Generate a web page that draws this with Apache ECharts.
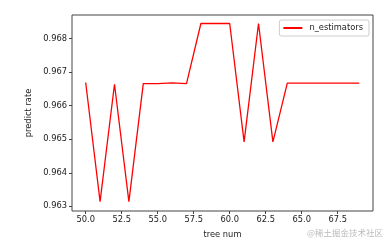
<!DOCTYPE html>
<html>
<head>
<meta charset="utf-8">
<script src="https://cdn.jsdelivr.net/npm/echarts@6/dist/echarts.min.js"></script>
<style>html,body{margin:0;padding:0;background:#fff}#c{width:390px;height:247px}</style>
</head>
<body>
<div id="c"></div>
<script>
const treeNum = [50,51,52,53,54,55,56,57,58,59,60,61,62,63,64,65,66,67,68,69];
const predictRate = [0.96669,0.96314,0.96664,0.96314,0.96666,0.96666,0.96668,0.96666,0.96845,0.96845,0.96845,0.96492,0.96845,0.96492,0.96667,0.96667,0.96667,0.96667,0.96667,0.96667];
const xTicks = [50.0,52.5,55.0,57.5,60.0,62.5,65.0,67.5];
const yTicks = [0.963,0.964,0.965,0.966,0.967,0.968];
const seriesName = 'n_estimators';

const font = 'DejaVu Sans';
const txt = '#222';
const chart = echarts.init(document.getElementById('c'), null, {renderer:'canvas'});
chart.setOption({
  animation:false,
  backgroundColor:'#fff',
  grid:{left:72,right:17,top:15,bottom:36,show:true,borderColor:'#444',borderWidth:1,backgroundColor:'#fff'},
  legend:{
    data:[{name:seriesName,icon:'rect'}],
    right:21, top:20,
    itemWidth:19, itemHeight:2, itemGap:5,
    padding:[4,6,4,4],
    borderColor:'#ccc', borderWidth:1, borderRadius:2,
    backgroundColor:'#fff',
    textStyle:{fontFamily:font,fontSize:8.3,color:txt,padding:[0,0,0,2]}
  },
  xAxis:{
    type:'value', min:49.05, max:69.95,
    name:'tree num', nameLocation:'middle', nameGap:20,
    nameTextStyle:{fontFamily:font,fontSize:8.3,color:txt},
    axisLine:{show:false},
    splitLine:{show:false},
    axisTick:{show:true,length:3,lineStyle:{color:'#444'},customValues:xTicks},
    axisLabel:{fontFamily:font,fontSize:8.3,color:txt,margin:5,customValues:xTicks,formatter:v=>Number(v).toFixed(1)}
  },
  yAxis:{
    type:'value', min:0.96286, max:0.968704,
    name:'predict rate', nameLocation:'middle', nameGap:39, nameRotate:90,
    nameTextStyle:{fontFamily:font,fontSize:8.3,color:txt},
    axisLine:{show:false},
    splitLine:{show:false},
    axisTick:{show:true,length:3,lineStyle:{color:'#444'},customValues:yTicks},
    axisLabel:{fontFamily:font,fontSize:8.3,color:txt,margin:5,customValues:yTicks,formatter:v=>Number(v).toFixed(3)}
  },
  series:[{
    name:seriesName, type:'line', showSymbol:false, symbol:'none',
    data:treeNum.map((x,i)=>[x,predictRate[i]]),
    lineStyle:{color:'#ff0000',width:1.3},
    itemStyle:{color:'#ff0000'}
  }],
  graphic:[{
    type:'text', right:7, top:229,
    style:{text:'@稀土掘金技术社区',fontFamily:'Noto Sans CJK SC',fontSize:8.5,fill:'#bbb'}
  }]
});
</script>
</body>
</html>
